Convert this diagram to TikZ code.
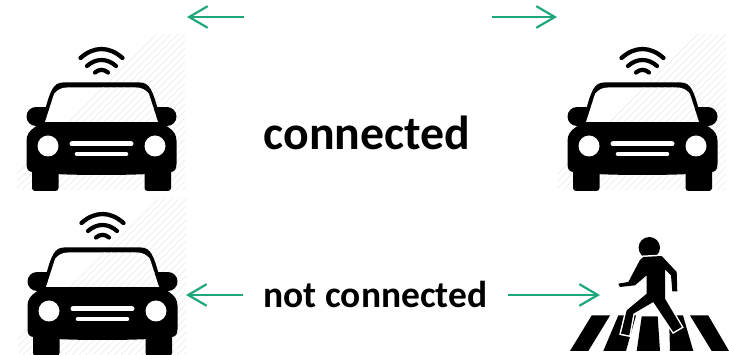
\documentclass[tikz,border=0pt]{standalone}
\usepackage{fontspec}
\setmainfont{Carlito}
\usetikzlibrary{arrows.meta}
\definecolor{linkgreen}{HTML}{1FA67D}
\definecolor{hatchgray}{HTML}{EFEFEF}
\tikzset{
  carpic/.pic={
    \begin{scope}
      \clip (17,34) rectangle (185,190);
      \foreach \i in {0,7,...,330}
        \draw[hatchgray,line width=0.8pt] (\i,191) -- (\i+157,34);
    \end{scope}
    % wifi
    \draw[line width=4.3pt,line cap=round] (80.5,58) .. controls (94,46) and (109,46) .. (122.5,58);
    \draw[line width=4.2pt,line cap=round] (87,66) .. controls (96,58) and (107,58) .. (116,66);
    \draw[line width=4.2pt,line cap=round] (95,72.5) .. controls (99,69) and (104,69) .. (108,72.5);
    % body
    \fill (36,116.5) circle [radius=9.5] (167,116.5) circle [radius=9.5];
    \fill (36,107) rectangle (167,126);
    \fill (63,82.5) -- (140,82.5) .. controls (150,82.5) and (153,92) .. (158,110) -- (45,110) .. controls (50,92) and (53,82.5) .. (63,82.5) -- cycle;
    \fill (45,120) -- (158,120) -- (168,127) .. controls (174,131) and (176.5,135) .. (176.5,141) -- (176.5,164) .. controls (176.5,170) and (174,172) .. (170,172)
      .. controls (150,176) and (53,176) .. (33,172) .. controls (29,172) and (26.5,170) .. (26.5,164) -- (26.5,141) .. controls (26.5,135) and (29,131) .. (35,127) -- cycle;
    \fill[rounded corners=3pt] (32,165) rectangle (58.5,191);
    \fill[rounded corners=3pt] (144.5,165) rectangle (171,191);
    % windshield, lights and grille
    \fill[white] (45,122) -- (158,122) -- (149,94) .. controls (146,90) and (142,87.5) .. (136,87.5) -- (67,87.5) .. controls (61,87.5) and (57,90) .. (54,94) -- cycle;
    \begin{scope}
      \clip (45,122) -- (158,122) -- (149,94) .. controls (146,90) and (142,87.5) .. (136,87.5) -- (67,87.5) .. controls (61,87.5) and (57,90) .. (54,94) -- cycle;
      \foreach \i in {0,7,...,330}
        \draw[hatchgray,line width=0.8pt] (\i,191) -- (\i+157,34);
    \end{scope}
    \fill[white] (48,146) circle [radius=10.5] (155,146) circle [radius=10.5];
    \draw[white,line width=5pt,line cap=round] (72,144) -- (131,144);
    \draw[white,line width=4.6pt,line cap=round] (77,154) -- (126,154);
  }
}
\begin{document}
\begin{tikzpicture}[x=1pt,y=-1pt]
  \tikzstyle{every node}=[inner sep=0pt,outer sep=0pt]
  \tikzstyle{link}=[-{Straight Barb[length=6.5mm,width=7.6mm,line width=2.2pt]},linkgreen,line width=2.2pt]
  \tikzstyle{carbox}=[minimum width=168pt,minimum height=157pt]
  \tikzstyle{stripe}=[fill=black]
  \useasboundingbox (0,0) rectangle (729,355);
  \fill[white] (0,0) rectangle (729,355);

  \pic at (0,0) {carpic};
  \pic at (541,0) {carpic};
  \pic at (1,165) {carpic};

  % crossing
  \fill[stripe] (591.7,315.5) -- (610,315.5) -- (588.3,351) -- (570,351) -- cycle;
  \fill[stripe] (618.3,315.5) -- (636,315.5) -- (626,351) -- (603.3,351) -- cycle;
  \fill[stripe] (641.7,316.5) -- (657.7,316.5) -- (660,351) -- (636.7,351) -- cycle;
  \fill[stripe] (669,315.5) -- (683,315.5) -- (693.3,351) -- (670,351) -- cycle;
  \fill[stripe] (690,315.5) -- (708.3,315.5) -- (729,351) -- (711.7,351) -- cycle;
  % walker
  \fill (649.3,247.7) circle [radius=10.7];
  \fill[preaction={draw=white,line width=3pt},line join=round] (643.3,257) -- (661.7,256) -- (676.7,272) -- (677.3,291.3) -- (672.3,291.3) -- (671,275.3) -- (665,269.3) -- (665,298.7) -- (681.7,327) -- (673.3,332) -- (653.3,302) -- (633.3,313.7) -- (629.3,335.3) -- (621,333.7) -- (626.7,310.3) -- (646.7,293.7) -- (646.7,275.3) -- (635,285.3) -- (620,287) -- (618.3,283.7) -- (628.3,282) -- (640,260) -- cycle;

  \node[carbox] (carleft) at (101,112.5) {};
  \node[carbox] (carright) at (642,112.5) {};
  \node[carbox] (carlow) at (102,277.5) {};
  \node[minimum width=80pt,minimum height=115pt] (walker) at (640,295) {};
  \node[anchor=base] (connected) at (367,150) {\fontsize{47.8}{48}\selectfont\bfseries connected};
  \node[anchor=base,inner xsep=21pt] (notconnected) at (375.5,308) {\fontsize{37.5}{38}\selectfont\bfseries not connected};

  \coordinate (topleftfrom) at (244,17);
  \coordinate (toplefttip) at (187,17);
  \coordinate (toprightfrom) at (492,17);
  \coordinate (toprighttip) at (557,17);

  \draw [link] (topleftfrom) -- (toplefttip);
  \draw [link] (toprightfrom) -- (toprighttip);
  \draw [link] (notconnected.west |- 0,295) -- (carlow.east |- 0,295);
  \draw [link] (notconnected.east |- 0,295) -- (walker.west |- 0,295);
\end{tikzpicture}
\end{document}
